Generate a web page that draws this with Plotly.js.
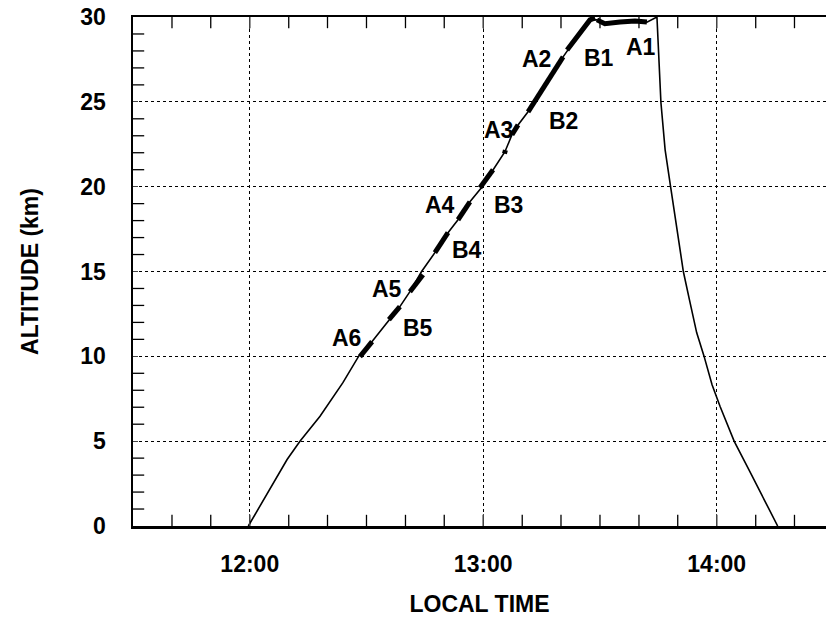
<!DOCTYPE html>
<html>
<head>
<meta charset="utf-8">
<script src="https://cdn.plot.ly/plotly-3.0.1.min.js"></script>
<style>html,body{margin:0;padding:0;background:#fff;}#chart{width:826px;height:621px;}</style>
</head>
<body>
<div id="chart"></div>
<script>
// Flight profile: local time (decimal hours) vs altitude (km)
const flightTime = [11.994, 12.160, 12.215, 12.301, 12.399, 12.468, 12.524, 12.596, 12.643, 12.686, 12.736, 12.793, 12.849, 12.892, 12.943, 12.993, 13.042, 13.093, 13.123, 13.149, 13.192, 13.256, 13.342, 13.402, 13.457, 13.487, 13.521, 13.586, 13.650, 13.701, 13.740,
  13.744, 13.761, 13.779, 13.803, 13.857, 13.883, 13.914, 13.945, 13.980, 14.014, 14.075, 14.142, 14.261];
const flightAlt = [0, 3.92, 4.99, 6.47, 8.45, 10.04, 10.87, 12.16, 12.93, 13.81, 15.0, 16.11, 17.29, 18.05, 19.11, 19.95, 21.0, 22.06, 23.06, 23.64, 24.41, 25.82, 27.65, 28.83, 29.83, 29.83, 29.6, 29.7, 29.77, 29.7, 29.95,
  30.0, 24.96, 22.17, 19.94, 15.0, 13.34, 11.4, 10.04, 8.33, 7.06, 4.99, 3.2, 0];

// Measurement segments (thick parts of the ascent), null separates segments
const segTime = [12.472, 12.524, null, 12.596, 12.643, null, 12.686, 12.742, null, 12.793, 12.849, null, 12.892, 12.943, null, 12.986, 13.042, null, 13.091, 13.095, null, 13.123, 13.149, null, 13.192, 13.256, 13.342, null, 13.359, 13.402, 13.457, 13.479, null, 13.487, 13.521, 13.586, 13.650, 13.701];
const segAlt  = [9.98, 10.87, null, 12.16, 12.93, null, 13.81, 14.81, null, 16.11, 17.29, null, 18.05, 19.11, null, 19.94, 21.0, null, 21.95, 22.15, null, 23.06, 23.64, null, 24.41, 25.82, 27.65, null, 28.06, 28.83, 29.83, 29.95, null, 29.83, 29.6, 29.7, 29.77, 29.7];

// Segment labels
const labelText = ['A1', 'B1', 'A2', 'B2', 'A3', 'A4', 'B3', 'B4', 'A5', 'A6', 'B5'];
const labelTime = [13.676, 13.496, 13.230, 13.342, 13.067, 12.815, 13.110, 12.930, 12.588, 12.416, 12.721];
const labelAlt  = [28.24, 27.59, 27.55, 23.88, 23.35, 18.93, 18.93, 16.28, 13.99, 11.10, 11.69];

// Axis ticks and ranges
const xRange = [11.5, 14.468];
const yRange = [0, 30];
const xTickVals = [12, 13, 14];
const xTickText = ['12:00', '13:00', '14:00'];
const yTickVals = [0, 5, 10, 15, 20, 25, 30];
// 10-minute minor tick marks (bottom and top frame) and 1-km minor tick marks (left frame)
const minorTimes = [11.667, 11.833, 12, 12.167, 12.333, 12.5, 12.667, 12.833, 13, 13.167, 13.333, 13.5, 13.667, 13.833, 14, 14.167, 14.333];
const minorAlts = [1, 2, 3, 4, 6, 7, 8, 9, 11, 12, 13, 14, 16, 17, 18, 19, 21, 22, 23, 24, 26, 27, 28, 29];

const FONT = 'Liberation Sans, Arial, Helvetica, sans-serif';
const TXT = {family: FONT, size: 23, color: '#000', weight: 'bold'};
const tickMarker = (sym) => ({symbol: sym, size: 16, color: '#000', line: {color: '#000', width: 1.3}});

const traces = [
  {x: flightTime, y: flightAlt, mode: 'lines', line: {color: '#000', width: 1.6}, hoverinfo: 'skip', showlegend: false},
  {x: segTime, y: segAlt, mode: 'lines', line: {color: '#000', width: 5}, connectgaps: false, hoverinfo: 'skip', showlegend: false},
  // minor tick marks, half clipped by the plot area so they point inward
  {x: minorTimes, y: minorTimes.map(() => yRange[0]), mode: 'markers', marker: tickMarker('line-ns-open'), hoverinfo: 'skip', showlegend: false},
  {x: minorTimes, y: minorTimes.map(() => yRange[1]), mode: 'markers', marker: tickMarker('line-ns-open'), hoverinfo: 'skip', showlegend: false},
  {x: minorAlts.map(() => xRange[0]), y: minorAlts, mode: 'markers', marker: tickMarker('line-ew-open'), hoverinfo: 'skip', showlegend: false}
];

const annotations = labelText.map((t, i) => ({
  x: labelTime[i], y: labelAlt[i], xref: 'x', yref: 'y', text: t, showarrow: false, font: TXT
}));

const layout = {
  width: 826, height: 621,
  margin: {l: 133, r: 0, t: 17, b: 95},
  paper_bgcolor: '#fff', plot_bgcolor: '#fff',
  font: TXT,
  showlegend: false,
  xaxis: {
    range: xRange,
    tickmode: 'array', tickvals: xTickVals, ticktext: xTickText,
    ticks: 'inside', ticklen: 12,
    showline: true, linecolor: '#000', linewidth: 2.5, mirror: 'ticks',
    showgrid: true, gridcolor: '#000', griddash: 'dot',
    zeroline: false,
    tickfont: TXT,
    ticklabelstandoff: 16,
    title: {text: 'LOCAL TIME', font: TXT, standoff: 20}
  },
  yaxis: {
    range: yRange,
    tickmode: 'array', tickvals: yTickVals,
    ticks: 'inside',
    showline: true, linecolor: '#000', linewidth: 2.5,
    showgrid: true, gridcolor: '#000', griddash: 'dot',
    zeroline: false,
    tickfont: TXT,
    ticklabelstandoff: 20,
    title: {text: 'ALTITUDE (km)', font: TXT, standoff: 36}
  },
  annotations: annotations
};

Plotly.newPlot('chart', traces, layout, {displayModeBar: false, staticPlot: true});
</script>
</body>
</html>
